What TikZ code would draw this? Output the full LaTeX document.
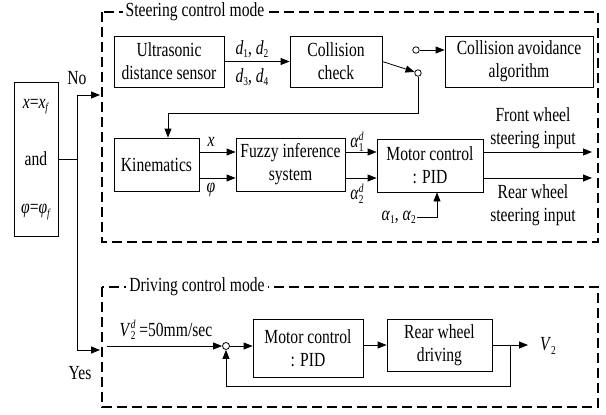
\documentclass[tikz,border=0pt]{standalone}
\usepackage{fontspec}
\setmainfont[FakeStretch=0.78]{Liberation Serif}
\usetikzlibrary{arrows.meta}
\newcommand{\mysub}[1]{\raisebox{-0.35ex}{\fontsize{12}{12}\selectfont #1}}
\newcommand{\mysupsub}[2]{\makebox[0pt][l]{\raisebox{0.8ex}{\fontsize{12}{12}\selectfont\itshape #1}}\raisebox{-0.4ex}{\fontsize{12}{12}\selectfont #2}}
\newcommand{\iv}[1]{\textit{#1}}
\begin{document}
\begin{tikzpicture}[x=1pt,y=-1pt,
 every node/.style={font=\fontsize{20}{23}\selectfont, inner sep=1pt},
 blk/.style={draw, line width=0.8pt, align=center, inner sep=0pt},
 conn/.style={line width=0.8pt},
 arr/.style={conn, -{Triangle[length=9pt,width=7pt]}},
 mode/.style={draw, line width=2.2pt, dash pattern=on 10pt off 5pt},
 modetitle/.style={fill=white, inner sep=3pt},
 sw/.style={circle, draw, line width=0.8pt, minimum size=6.5pt, inner sep=0pt}
]
\useasboundingbox (0,0) rectangle (606,415);

% condition box
\node[blk, minimum width=44pt, minimum height=154pt] (cond) at (36,159) {};
\node (c1t) at (36,107) {\iv{x}=\iv{x}\mysub{\iv{f}}};
\node (c2t) at (36,159) {and};
\node (c3t) at (36,212) {\iv{φ}=\iv{φ}\mysub{\iv{f}}};

\coordinate (j) at (77,159);
\coordinate (jtop) at (77,95);
\coordinate (jbot) at (77,350);
\coordinate (noEnd) at (100,95);
\coordinate (yesEnd) at (100,350);
\draw[conn] (cond.east) -- (j);
\draw[conn] (jtop) -- (jbot);
\draw[arr] (jtop) -- (noEnd);
\draw[arr] (jbot) -- (yesEnd);
\node (no) at (77,78) {No};
\node (yes) at (80,373) {Yes};

% steering mode
\draw[mode] (102,12) rectangle (598,242);
\node[modetitle] (st) at (195,12) {Steering control mode};

\node[blk, minimum width=110pt, minimum height=51pt] (ultra) at (169,61.5) {Ultrasonic\\distance sensor};
\node[blk, minimum width=92pt, minimum height=51pt] (coll) at (336,61.5) {Collision\\check};
\node[blk, minimum width=148pt, minimum height=51pt] (avoid) at (519,61.5) {Collision avoidance\\algorithm};
\node[blk, minimum width=85pt, minimum height=53pt] (kin) at (156.5,164.5) {Kinematics};
\node[blk, minimum width=109pt, minimum height=53pt] (fuzzy) at (290.5,164.5) {Fuzzy inference\\system};
\node[blk, minimum width=106pt, minimum height=53pt] (motor) at (430,165.5) {Motor control\\: PID};

\draw[arr] (ultra.east) -- (coll.west);
\node (d12) at (252,49) {\iv{d}\mysub{1}, \iv{d}\mysub{2}};
\node (d34) at (252,77) {\iv{d}\mysub{3}, \iv{d}\mysub{4}};

\node[sw] (s1) at (416,50) {};
\node[sw] (s2) at (418,73) {};
\draw[arr] (coll.east) -- (s2);
\draw[arr] (s1) -- (s1 -| avoid.west);
\coordinate (fb1) at (418,113);
\coordinate (fb2) at (168,113);
\draw[arr] (s2.south) -- (fb1) -- (fb2) -- (fb2 |- kin.north);

\coordinate (r1) at (0,152);
\coordinate (r2) at (0,178);
\draw[arr] (kin.east |- r1) -- (fuzzy.west |- r1);
\draw[arr] (kin.east |- r2) -- (fuzzy.west |- r2);
\node (lx) at (211,142) {\iv{x}};
\node (lphi) at (211,190) {\iv{φ}};
\draw[arr] (fuzzy.east |- r1) -- (motor.west |- r1);
\draw[arr] (fuzzy.east |- r2) -- (motor.west |- r2);
\node (la1) at (357,142) {\iv{α}\mysupsub{d}{1}};
\node (la2) at (357,194) {\iv{α}\mysupsub{d}{2}};

\coordinate (fw) at (592,152);
\coordinate (rw) at (592,178);
\draw[arr] (motor.east |- r1) -- (fw);
\draw[arr] (motor.east |- r2) -- (rw);
\node (fwt1) at (533,115) {Front wheel};
\node (fwt2) at (533,140) {steering input};
\node (rwt1) at (533,192) {Rear wheel};
\node (rwt2) at (533,217) {steering input};

\node[anchor=east] (ain) at (417,217) {\iv{α}\mysub{1}, \iv{α}\mysub{2}};
\coordinate (ac) at (437,217);
\draw[arr] (ain.east) -- (ac) -- (ac |- motor.south);

% driving mode
\draw[mode] (102,287) rectangle (598,407);
\node[modetitle] (dt) at (197,287) {Driving control mode};

\node[sw, minimum size=7pt] (sum) at (226,346) {};
\node[blk, minimum width=110pt, minimum height=58pt] (motor2) at (308,348) {Motor control\\: PID};
\node[blk, minimum width=105pt, minimum height=52pt] (rear) at (439.5,345) {Rear wheel\\driving};

\coordinate (vin) at (107,346);
\draw[arr] (vin) -- (sum);
\node (vlab) at (166,330) {\iv{V}\mysupsub{d}{2} =50mm/sec};
\draw[arr] (sum.east) -- (sum -| motor2.west);
\draw[arr] (motor2.east |- rear) -- (rear.west);
\coordinate (vout) at (528,345);
\draw[arr] (rear.east) -- (vout);
\node (v2) at (548,346) {\iv{V}\mysub{2}};
\coordinate (fbA) at (510,345);
\coordinate (fbB) at (510,386);
\draw[arr] (fbA) -- (fbB) -- (fbB -| sum) -- (sum.south);
\end{tikzpicture}
\end{document}
